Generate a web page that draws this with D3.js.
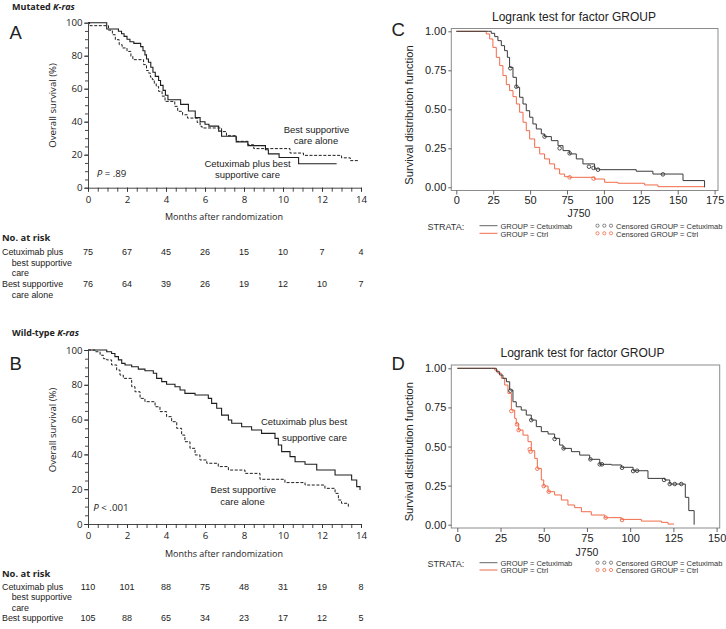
<!DOCTYPE html>
<html><head><meta charset="utf-8">
<script src="https://cdn.jsdelivr.net/npm/d3@7"></script>
<style>body{margin:0;background:#fff}svg{display:block}</style>
</head><body><svg id="c" width="726" height="629"></svg>
<script>
// ---------- DATA ----------
const monthTicks = [0, 2, 4, 6, 8, 10, 12, 14];
const pctTicks = [0, 20, 40, 60, 80, 100];
const riskTimes = [0, 2, 4, 6, 8, 10, 12, 14];

// Panel A (mutated K-ras) – [month, % surviving]
const aCetux = [[0,100],[0.96,96.2],[1.56,94.8],[1.72,93.3],[1.85,91.7],[2.0,90],[2.15,88.5],[2.35,87.5],[2.7,85.5],[2.82,83],[2.92,80.5],[3.0,78],[3.1,76],[3.22,73],[3.33,70],[3.45,67.5],[3.62,65],[3.72,62],[3.85,59],[3.97,56],[4.1,53.3],[4.75,50.5],[5.15,46.5],[5.5,42.5],[5.75,40],[6.0,38.5],[6.2,37.3],[6.7,34.3],[6.85,31.2],[7.6,27.8],[8.2,25.5],[9.1,23],[9.25,20.5],[9.8,18.3],[10.8,14.5],[12.75,14.5]];
const aBsc = [[0,100],[0.08,98.2],[1.05,95.5],[1.25,92.7],[1.4,89.7],[1.6,86.7],[1.75,84.7],[2.0,82.6],[2.2,79.6],[2.3,77.6],[2.85,74.6],[3.0,71],[3.1,69.5],[3.2,67],[3.3,65.5],[3.4,63],[3.5,61.4],[3.62,58.4],[3.8,55.5],[3.95,52.3],[4.45,49.3],[4.6,46.3],[4.85,44.2],[5.1,42.2],[5.6,39.5],[5.75,37.2],[5.85,36.2],[6.85,34],[7.1,31.5],[7.6,28.1],[8.2,26],[8.5,23.7],[10.36,21],[11.05,19.6],[13.0,18.1],[13.45,16.4],[13.9,16.4]];
const riskACetux = [75, 67, 45, 26, 15, 10, 7, 4];
const riskABsc = [76, 64, 39, 26, 19, 12, 10, 7];

// Panel B (wild-type K-ras)
const bCetux = [[0,100],[0.96,99],[1.21,98],[1.38,96.2],[1.56,94.3],[1.73,92.3],[1.9,91.4],[2.24,90.4],[2.58,89],[2.92,88.1],[3.35,86.6],[3.52,83.7],[3.78,81.8],[4.03,80.3],[4.46,78.9],[4.72,77],[4.97,75.1],[5.49,74.1],[6.17,72.2],[6.34,69.3],[6.6,66.5],[6.85,62.6],[7.2,59.8],[7.37,57.9],[7.88,55.9],[8.39,54],[8.9,52.1],[9.59,49.2],[9.76,45.4],[9.93,41.6],[10.36,38.7],[10.62,35.8],[11.13,34.3],[11.73,31],[12.67,28.2],[13.52,25.3],[13.78,21.5],[13.95,19.5]];
const bBsc = [[0,100],[0.36,99],[0.62,97],[0.79,95],[0.96,94.3],[1.21,91.4],[1.47,88.5],[1.64,85.6],[1.81,83.7],[2.24,78.9],[2.41,76],[2.67,72.2],[2.92,70.3],[3.44,67.4],[3.69,64.6],[4.03,61.7],[4.29,58.8],[4.55,55],[4.8,51.1],[4.97,47.3],[5.23,43.5],[5.49,39.7],[5.74,36.8],[6.09,34.9],[6.68,33],[7.2,31],[8.05,29.1],[8.82,25.7],[10.1,23.8],[11.13,22.4],[12.15,20.5],[12.67,17.6],[12.84,13.8],[13.0,11.9],[13.35,10],[13.44,10]];
const riskBCetux = [110, 101, 88, 75, 48, 31, 19, 8];
const riskBBsc = [105, 88, 65, 34, 23, 17, 12, 5];

// Panel C – [J750, survival]
const survTicks = [0, 0.25, 0.5, 0.75, 1];
const jTicksC = [0, 25, 50, 75, 100, 125, 150, 175];
const cCetux = [[0,1],[21.9,1],[23.7,0.987],[26,0.966],[28.2,0.94],[30.5,0.908],[32.7,0.876],[34.6,0.833],[36.1,0.769],[38.4,0.705],[40.7,0.641],[42.9,0.577],[45.2,0.534],[47.4,0.491],[49.7,0.449],[51.9,0.406],[54.2,0.374],[57.6,0.342],[59.8,0.325],[64.4,0.299],[68.9,0.267],[72.3,0.235],[76.8,0.214],[81.3,0.182],[85.8,0.15],[93.7,0.118],[97.1,0.113],[121.9,0.103],[133.2,0.085],[153.6,0.043],[168.2,0]];
const cCetuxCens = [[36.6,0.763],[40.7,0.645],[59.8,0.325],[70,0.25],[76.8,0.218],[89.9,0.132],[93,0.124],[96,0.113],[140,0.083]];
const cCtrl = [[0,1],[18.1,1],[20.3,0.983],[22.6,0.951],[24.8,0.897],[27.1,0.833],[29.4,0.78],[31.6,0.716],[33.9,0.658],[36.1,0.62],[38.4,0.581],[40.7,0.534],[42.9,0.481],[45.2,0.417],[47.4,0.363],[49.7,0.31],[53.1,0.256],[56.5,0.214],[59.8,0.182],[63.2,0.15],[66.6,0.118],[70,0.085],[73.4,0.068],[76.8,0.064],[93.7,0.053],[100.5,0.032],[109.5,0.026],[127.6,0.015],[136.6,0.004],[168.2,0.004]];
const cCtrlCens = [[76.8,0.064],[93,0.056]];

// Panel D
const jTicksD = [0, 25, 50, 75, 100, 125, 150];
const dCetux = [[0,1],[19.7,1],[22.6,0.978],[24.5,0.957],[26.4,0.936],[28.4,0.914],[30.3,0.861],[32.2,0.786],[34.1,0.754],[37,0.733],[39.9,0.701],[42.8,0.669],[45.7,0.627],[48.6,0.595],[52.5,0.58],[56.3,0.552],[59.2,0.509],[61.2,0.488],[66,0.467],[70.8,0.445],[76.6,0.418],[82.4,0.386],[89.1,0.382],[94.9,0.367],[101.7,0.345],[110.3,0.296],[120,0.286],[122.9,0.26],[131.9,0.175],[133.9,0.09],[137,0]];
const dCetuxCens = [[30.7,0.857],[42.8,0.669],[56.3,0.548],[61.5,0.488],[77,0.418],[82.4,0.386],[83.7,0.386],[95.3,0.364],[101.7,0.343],[104,0.345],[119.6,0.286],[122.9,0.26],[125.8,0.26],[129.6,0.26]];
const dCtrl = [[0,1],[19.7,1],[21.6,0.989],[23.5,0.968],[25.5,0.936],[27.4,0.893],[29.3,0.84],[31.3,0.733],[33.2,0.68],[34.1,0.644],[35.5,0.605],[38,0.573],[40.9,0.531],[42.8,0.473],[44.8,0.424],[46.3,0.36],[48.6,0.286],[50,0.247],[52.5,0.211],[56.3,0.19],[60.2,0.158],[64,0.126],[67.9,0.109],[71.8,0.083],[77.5,0.062],[85.3,0.045],[94.9,0.034],[106.5,0.023],[118.1,0.015],[121.9,0.004],[125.4,0.004]];
const dCtrlCens = [[31.3,0.727],[34.5,0.642],[35.5,0.605],[41.9,0.482],[42.4,0.467],[46.3,0.358],[50,0.247],[52.9,0.211],[85.8,0.045],[95.3,0.03]];

// ---------- DRAW ----------
const svg = d3.select('#c');
const NF = "'Open Sans', sans-serif";
const SF = "'Liberation Sans', Arial, sans-serif";
const INK = '#222';
const DARK = '#3a3a3a';
const ORANGE = '#f26a48';

function txt(g, x, y, s, o = {}) {
  const t = g.append('text').attr('x', x).attr('y', y).text(s)
    .attr('font-family', o.ff || NF).attr('font-size', o.fs || 9)
    .attr('fill', o.fill || INK).attr('text-anchor', o.anchor || 'start');
  if (o.fw) t.attr('font-weight', o.fw);
  if (o.fst) t.attr('font-style', o.fst);
  return t;
}

function drawKM(o) {
  const g = svg.append('g');
  const x = d3.scaleLinear().domain([0, 14]).range([88, 361]);
  const y = d3.scaleLinear().domain([0, 100]).range([o.yb, o.yt]);
  const style = s => { s.selectAll('line,path').attr('stroke', '#333').attr('stroke-width', 0.9);
    s.selectAll('text').attr('font-family', NF).attr('font-size', 9.7).attr('fill', INK); };
  g.append('g').attr('transform', `translate(0,${o.yb})`)
    .call(d3.axisBottom(x).tickValues(d3.range(0, 14.01, 0.5)).tickSize(4).tickSizeOuter(0).tickFormat(''))
    .call(style);
  g.append('g').attr('transform', `translate(0,${o.yb})`)
    .call(d3.axisBottom(x).tickValues(monthTicks).tickSize(4).tickSizeOuter(0).tickPadding(4))
    .call(style).call(s => s.select('.domain').remove());
  g.append('g').attr('transform', 'translate(88,0)')
    .call(d3.axisLeft(y).tickValues(d3.range(0, 100.1, 5)).tickSize(3).tickSizeOuter(0).tickFormat(''))
    .call(style);
  g.append('g').attr('transform', 'translate(88,0)')
    .call(d3.axisLeft(y).tickValues(pctTicks).tickSize(4).tickSizeOuter(0).tickPadding(1.5))
    .call(style).call(s => s.select('.domain').remove());

  const line = d3.line().x(d => x(d[0])).y(d => y(d[1])).curve(d3.curveStepAfter);
  g.append('path').datum(o.bsc).attr('d', line).attr('fill', 'none')
    .attr('stroke', '#1e1e1e').attr('stroke-width', 1).attr('stroke-dasharray', '3,1.6');
  g.append('path').datum(o.cetux).attr('d', line).attr('fill', 'none')
    .attr('stroke', '#1e1e1e').attr('stroke-width', 1.1);

  txt(g, 0, 0, 'Overall survival (%)', { fs: 9.6, anchor: 'middle' })
    .attr('transform', `translate(55.5,${o.ylab}) rotate(-90)`);
  txt(g, 224, o.xlab, 'Months after randomization', { fs: 9, anchor: 'middle' });

  // heading & panel letter
  const h = txt(g, 12, o.head, '', { fs: 9, fw: 'bold' });
  h.append('tspan').text(o.headText + ' ');
  h.append('tspan').attr('font-style', 'italic').text('K-ras');
  txt(g, 9.5, o.letterY, o.letter, { ff: SF, fs: 18.5 });

  // P value
  const p = txt(g, o.px, o.py, '', { fs: 9.7 });
  p.append('tspan').attr('font-style', 'italic').text('P');
  p.append('tspan').text(o.ptext);

  // curve labels
  o.labels.forEach(l => txt(g, l[0], l[1], l[2], { ff: SF, fs: 9.5, anchor: 'middle' }));

  // risk table
  txt(g, 2, o.riskY, 'No. at risk', { fs: 9.4, fw: 'bold' });
  o.rowLabels.forEach(r => txt(g, r[0], r[1], r[2], { ff: SF, fs: 8.9 }));
  riskTimes.forEach((t, i) => {
    txt(g, x(t), o.row1Y, o.risk1[i], { ff: SF, fs: 9, anchor: 'middle' });
    txt(g, x(t), o.row2Y, o.risk2[i], { ff: SF, fs: 9, anchor: 'middle' });
  });
}

drawKM({
  yt: 22.7, yb: 187.7, ylab: 105.5, xlab: 220,
  cetux: aCetux, bsc: aBsc,
  head: 10, headText: 'Mutated', letter: 'A', letterY: 39.3,
  px: 96.7, py: 177, ptext: ' = .89',
  labels: [[316.5, 133, 'Best supportive'], [316, 144, 'care alone'], [247.5, 166.5, 'Cetuximab plus best'], [247.5, 178, 'supportive care']],
  riskY: 240.5, row1Y: 255, row2Y: 287,
  rowLabels: [[2, 255, 'Cetuximab plus'], [11.7, 265.5, 'best supportive'], [11.7, 276, 'care'], [2, 287, 'Best supportive'], [11.7, 297.5, 'care alone']],
  risk1: riskACetux, risk2: riskABsc
});
drawKM({
  yt: 350, yb: 524, ylab: 430, xlab: 557,
  cetux: bCetux, bsc: bBsc,
  head: 336, headText: 'Wild-type', letter: 'B', letterY: 370,
  px: 93.3, py: 511, ptext: ' < .001',
  labels: [[304, 425, 'Cetuximab plus best'], [314.5, 441, 'supportive care'], [243.3, 493, 'Best supportive'], [242.5, 505, 'care alone']],
  riskY: 577, row1Y: 589.5, row2Y: 621,
  rowLabels: [[2, 589.5, 'Cetuximab plus'], [11.7, 600, 'best supportive'], [11.7, 610.5, 'care'], [2, 621, 'Best supportive']],
  risk1: riskBCetux, risk2: riskBBsc
});

function drawSAS(o) {
  const g = svg.append('g');
  const x = d3.scaleLinear().domain(o.xdom).range(o.xr);
  const y = d3.scaleLinear().domain([0, 1]).range(o.yr);
  const f = o.frame; // [l,t,r,b]
  g.append('rect').attr('x', f[0]).attr('y', f[1]).attr('width', f[2] - f[0]).attr('height', f[3] - f[1])
    .attr('fill', 'none').attr('stroke', '#8c8c8c').attr('stroke-width', 1);
  const style = s => { s.select('.domain').remove();
    s.selectAll('line').attr('stroke', '#555').attr('stroke-width', 0.9);
    s.selectAll('text').attr('font-family', SF).attr('font-size', 11).attr('fill', INK); };
  g.append('g').attr('transform', `translate(0,${f[3]})`)
    .call(d3.axisBottom(x).tickValues(o.xticks).tickSize(4).tickPadding(2)).call(style);
  g.append('g').attr('transform', `translate(${f[0]},0)`)
    .call(d3.axisLeft(y).tickValues(survTicks).tickFormat(d3.format('.2f')).tickSize(3).tickPadding(2)).call(style);

  const line = d3.line().x(d => x(d[0])).y(d => y(d[1])).curve(d3.curveStepAfter);
  g.append('path').datum(o.ctrl).attr('d', line).attr('fill', 'none').attr('stroke', ORANGE).attr('stroke-width', 1);
  g.append('path').datum(o.cetux).attr('d', line).attr('fill', 'none').attr('stroke', DARK).attr('stroke-width', 1);
  g.selectAll('.cc').data(o.ctrlCens).join('circle').attr('cx', d => x(d[0])).attr('cy', d => y(d[1]))
    .attr('r', 1.8).attr('fill', 'none').attr('stroke', ORANGE).attr('stroke-width', 0.9);
  g.selectAll('.ce').data(o.cetuxCens).join('circle').attr('cx', d => x(d[0])).attr('cy', d => y(d[1]))
    .attr('r', 1.8).attr('fill', 'none').attr('stroke', DARK).attr('stroke-width', 0.9);

  txt(g, o.titleX, o.titleY, 'Logrank test for factor GROUP', { ff: SF, fs: 12, anchor: 'middle' });
  txt(g, 0, 0, 'Survival distribution function', { ff: SF, fs: 11.2, anchor: 'middle' })
    .attr('transform', `translate(413,${o.ylabY}) rotate(-90)`);
  txt(g, o.jX, o.jY, 'J750', { ff: SF, fs: 10.5, anchor: 'middle' });
  txt(g, 391.5, o.letterY, o.letter, { ff: SF, fs: 18.5 });

  // legend
  const L = o.leg; // [yCetux, yCtrl]
  txt(g, 427.5, L[0] + 3.8, 'STRATA:', { ff: SF, fs: 9, fill: '#333' });
  g.append('line').attr('x1', 479.5).attr('x2', 497.5).attr('y1', L[0]).attr('y2', L[0]).attr('stroke', '#666').attr('stroke-width', 1);
  g.append('line').attr('x1', 479.5).attr('x2', 497.5).attr('y1', L[1]).attr('y2', L[1]).attr('stroke', ORANGE).attr('stroke-width', 1);
  txt(g, 500.5, L[0] + 3.2, 'GROUP = Cetuximab', { ff: SF, fs: 7.5, fill: '#333' });
  txt(g, 500.5, L[1] + 3.4, 'GROUP = Ctrl', { ff: SF, fs: 7.5, fill: '#333' });
  [597.5, 604.3, 611].forEach(cx => {
    g.append('circle').attr('cx', cx).attr('cy', L[0]).attr('r', 1.6).attr('fill', 'none').attr('stroke', '#666').attr('stroke-width', 0.8);
    g.append('circle').attr('cx', cx).attr('cy', L[1]).attr('r', 1.6).attr('fill', 'none').attr('stroke', ORANGE).attr('stroke-width', 0.8);
  });
  txt(g, 616, L[0] + 3.2, 'Censored GROUP = Cetuximab', { ff: SF, fs: 7.5, fill: '#333' });
  txt(g, 616, L[1] + 3.4, 'Censored GROUP = Ctrl', { ff: SF, fs: 7.5, fill: '#333' });
}

drawSAS({
  xdom: [0, 175], xr: [456.3, 714.6], yr: [187.3, 31.3], frame: [451.3, 28.5, 718, 190.5],
  xticks: jTicksC, cetux: cCetux, ctrl: cCtrl, cetuxCens: cCetuxCens, ctrlCens: cCtrlCens,
  titleX: 574, titleY: 21, ylabY: 115, jX: 579, jY: 216.5, letter: 'C', letterY: 36, leg: [225.7, 233.3]
});
drawSAS({
  xdom: [0, 150], xr: [457.3, 716.6], yr: [524.7, 368.3], frame: [451.3, 365, 719.7, 528],
  xticks: jTicksD, cetux: dCetux, ctrl: dCtrl, cetuxCens: dCetuxCens, ctrlCens: dCtrlCens,
  titleX: 582.5, titleY: 357, ylabY: 451.7, jX: 587, jY: 556, letter: 'D', letterY: 370, leg: [562.7, 570]
});
</script></body></html>
